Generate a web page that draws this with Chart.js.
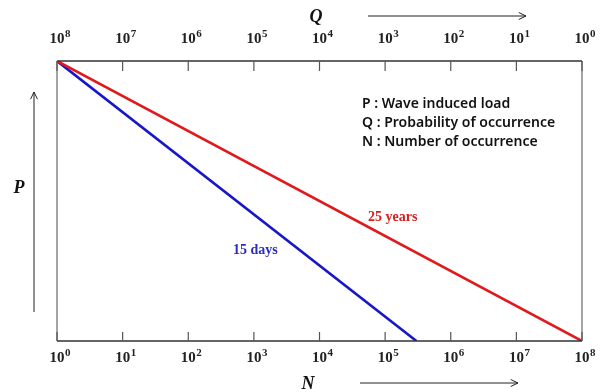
<!DOCTYPE html>
<html>
<head>
<meta charset="utf-8">
<script src="https://cdn.jsdelivr.net/npm/chart.js@4.4.1/dist/chart.umd.min.js"></script>
<style>
  html, body { margin: 0; padding: 0; background: #fff; }
</style>
</head>
<body>
<canvas id="chart" width="604" height="392"></canvas>
<script>
// exponents shown on the two log axes
const nExponents = [0, 1, 2, 3, 4, 5, 6, 7, 8];
const qExponents = [8, 7, 6, 5, 4, 3, 2, 1, 0];

// the two design lines (N on x, relative P on y)
const longTermN = [1, 1e8];
const longTermP = [1, 0];
const shortTermN = [1, 3e5];
const shortTermP = [1, 0];
const seriesNames = ['25 years', '15 days'];

const notes = ['P : Wave induced load', 'Q : Probability of occurrence', 'N : Number of occurrence'];

function arrow(ctx, x1, y1, x2, y2) {
    const a = Math.atan2(y2 - y1, x2 - x1);
    ctx.beginPath();
    ctx.moveTo(x1, y1);
    ctx.lineTo(x2, y2);
    ctx.moveTo(x2 - 8 * Math.cos(a - 0.45), y2 - 8 * Math.sin(a - 0.45));
    ctx.lineTo(x2, y2);
    ctx.lineTo(x2 - 8 * Math.cos(a + 0.45), y2 - 8 * Math.sin(a + 0.45));
    ctx.stroke();
}

// "10" with a raised exponent, base centred on the tick
function powerLabel(ctx, x, baseline, exp) {
    ctx.font = 'bold 15px "Liberation Serif"';
    ctx.textAlign = 'center';
    ctx.textBaseline = 'alphabetic';
    ctx.fillText('10', x, baseline);
    const w = ctx.measureText('10').width;
    ctx.font = 'bold 11px "Liberation Serif"';
    ctx.textAlign = 'left';
    ctx.fillText(String(exp), x + w / 2 + 0.5, baseline - 6);
}

const decor = {
    id: 'decor',
    afterDatasetsDraw(chart) {
        const ctx = chart.ctx;
        const a = chart.chartArea;
        const sx = chart.scales.x, sq = chart.scales.x2;
        ctx.save();
        // frame
        ctx.lineWidth = 1.5;
        ctx.strokeStyle = '#888';
        ctx.beginPath();
        ctx.moveTo(a.left, a.top); ctx.lineTo(a.left, a.bottom);
        ctx.moveTo(a.right, a.top); ctx.lineTo(a.right, a.bottom);
        ctx.stroke();
        ctx.strokeStyle = '#333';
        ctx.beginPath();
        ctx.moveTo(a.left, a.top); ctx.lineTo(a.right, a.top);
        ctx.moveTo(a.left, a.bottom); ctx.lineTo(a.right, a.bottom);
        ctx.stroke();

        // inward tick marks
        ctx.strokeStyle = '#555';
        ctx.lineWidth = 1.2;
        ctx.beginPath();
        sx.ticks.forEach(t => {
            const px = sx.getPixelForValue(t.value);
            ctx.moveTo(px, a.bottom); ctx.lineTo(px, a.bottom - 9);
        });
        sq.ticks.forEach(t => {
            const px = sq.getPixelForValue(t.value);
            ctx.moveTo(px, a.top); ctx.lineTo(px, a.top + 10);
        });
        ctx.stroke();

        // tick labels
        ctx.fillStyle = '#222';
        sx.ticks.forEach(t => powerLabel(ctx, sx.getPixelForValue(t.value), a.bottom + 21, Math.round(Math.log10(t.value))));
        sq.ticks.forEach(t => powerLabel(ctx, sq.getPixelForValue(t.value), a.top - 18, Math.round(Math.log10(t.value))));

        // axis arrows
        ctx.strokeStyle = '#222';
        ctx.lineWidth = 1;
        arrow(ctx, 34, 312, 34, 92);
        arrow(ctx, 368, 16, 526, 16);
        arrow(ctx, 360, 383, 518, 383);

        // axis letters
        ctx.fillStyle = '#111';
        ctx.font = 'italic bold 18px "Liberation Serif"';
        ctx.textAlign = 'center';
        ctx.textBaseline = 'middle';
        ctx.fillText('P', 19, 188);
        ctx.fillText('Q', 316, 17);
        ctx.fillText('N', 308, 384);

        // notes
        ctx.font = '600 14px "Noto Sans"';
        ctx.textAlign = 'left';
        notes.forEach((s, i) => ctx.fillText(s, 362, 104 + i * 19));

        // series labels
        ctx.font = 'bold 14px "Liberation Serif"';
        ctx.fillStyle = '#d42020';
        ctx.fillText(seriesNames[0], 368, 217);
        ctx.fillStyle = '#2a2ac0';
        ctx.fillText(seriesNames[1], 233, 250);
        ctx.restore();
    }
};

new Chart(document.getElementById('chart'), {
    type: 'line',
    data: {
        datasets: [
            {
                label: seriesNames[0],
                data: longTermN.map((n, i) => ({ x: n, y: longTermP[i] })),
                borderColor: '#e0191c',
                borderWidth: 2.6,
                pointRadius: 0
            },
            {
                label: seriesNames[1],
                data: shortTermN.map((n, i) => ({ x: n, y: shortTermP[i] })),
                borderColor: '#1717c8',
                borderWidth: 2.6,
                pointRadius: 0
            }
        ]
    },
    options: {
        responsive: false,
        animation: false,
        devicePixelRatio: 1,
        layout: { padding: { left: 57, right: 22, top: 0, bottom: 0 } },
        plugins: { legend: { display: false }, tooltip: { enabled: false } },
        scales: {
            x: {
                type: 'logarithmic',
                position: 'bottom',
                min: 1,
                max: 1e8,
                grid: { display: false, drawTicks: false },
                border: { display: false },
                afterBuildTicks: s => { s.ticks = nExponents.map(e => ({ value: Math.pow(10, e) })); },
                afterFit: s => { s.height = 51; },
                ticks: { display: false }
            },
            x2: {
                type: 'logarithmic',
                position: 'top',
                reverse: true,
                min: 1,
                max: 1e8,
                grid: { display: false, drawTicks: false },
                border: { display: false },
                afterBuildTicks: s => { s.ticks = qExponents.map(e => ({ value: Math.pow(10, e) })); },
                afterFit: s => { s.height = 61; },
                ticks: { display: false }
            },
            y: {
                display: false,
                min: 0,
                max: 1
            }
        }
    },
    plugins: [decor]
});
</script>
</body>
</html>
